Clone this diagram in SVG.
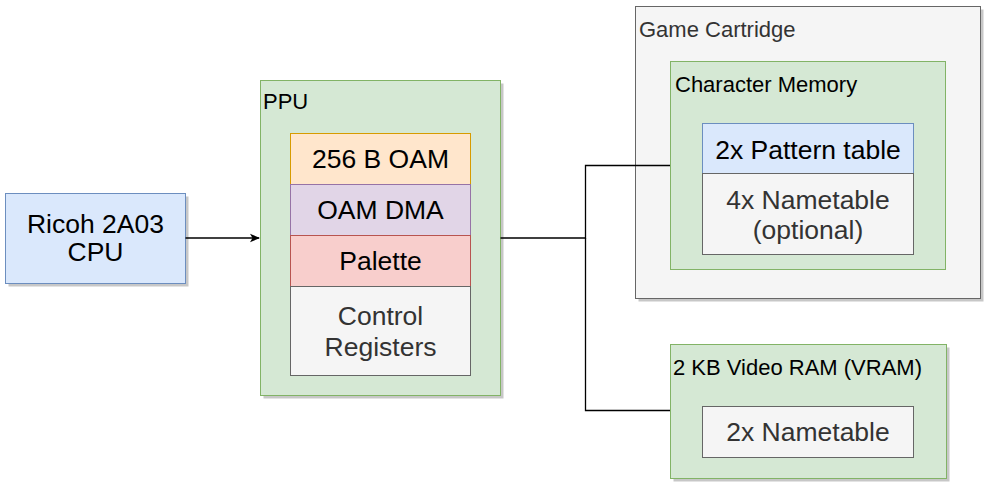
<svg xmlns="http://www.w3.org/2000/svg" width="990" height="489" viewBox="0 0 990 489">
<defs>
<style>
.sh{fill:#000;fill-opacity:0.22;stroke:none}
.blue{fill:#dae8fc;stroke:#6c8ebf;stroke-width:1}
.green{fill:#d5e8d4;stroke:#82b366;stroke-width:1}
.orange{fill:#ffe6cc;stroke:#d79b00;stroke-width:1}
.purple{fill:#e1d5e7;stroke:#9673a6;stroke-width:1}
.red{fill:#f8cecc;stroke:#b85450;stroke-width:1}
.grey{fill:#f5f5f5;stroke:#666666;stroke-width:1}
text{font-family:"Liberation Sans",Arial,Helvetica,sans-serif}
.big{font-size:26.5px;text-anchor:middle;fill:#000}
.bigg{font-size:26.5px;text-anchor:middle;fill:#333333}
.sm{font-size:22px;fill:#000}
.smg{font-size:22px;fill:#333333}
.conn{fill:none;stroke:#000;stroke-width:1.3}
</style>
<marker id="arr" viewBox="0 0 10 10" refX="9" refY="5" markerWidth="10" markerHeight="10" markerUnits="userSpaceOnUse" orient="auto">
<path d="M0,0.8 L10,5 L0,9.2 L2.5,5 Z" fill="#000"/>
</marker>
</defs>

<g id="cpu">
<rect class="sh" x="8.5" y="196.5" width="180" height="90"/>
<rect class="blue" x="5.5" y="193.5" width="180" height="90"/>
<text class="big" x="95.5" y="233">Ricoh 2A03</text>
<text class="big" x="95.5" y="261">CPU</text>
</g>

<g id="ppu">
<rect class="sh" x="263.5" y="83.5" width="240" height="315"/>
<rect class="green" x="260.5" y="80.5" width="240" height="315"/>
<text class="sm" x="263" y="109">PPU</text>
</g>

<g id="oam">
<rect class="orange" x="290.5" y="133.5" width="180" height="51"/>
<text class="big" x="380.5" y="168">256 B OAM</text>
</g>
<g id="oamdma">
<rect class="purple" x="290.5" y="184.5" width="180" height="51"/>
<text class="big" x="380.5" y="219">OAM DMA</text>
</g>
<g id="palette">
<rect class="red" x="290.5" y="235.5" width="180" height="51"/>
<text class="big" x="380.5" y="270">Palette</text>
</g>
<g id="control">
<rect class="grey" x="290.5" y="286.5" width="180" height="89"/>
<text class="bigg" x="380.5" y="325">Control</text>
<text class="bigg" x="380.5" y="356">Registers</text>
</g>

<g id="cartridge">
<rect class="sh" x="638.5" y="9.5" width="345" height="292"/>
<rect class="grey" x="635.5" y="6.5" width="345" height="292"/>
<text class="smg" x="639" y="37">Game Cartridge</text>
</g>

<g id="chr">
<rect class="green" x="670.5" y="61.5" width="275" height="208"/>
<text class="sm" x="675" y="92">Character Memory</text>
</g>

<g id="pattern">
<rect class="blue" x="702.5" y="123.5" width="211" height="50"/>
<text class="big" x="808" y="158.5">2x Pattern table</text>
</g>
<g id="nametable4">
<rect class="grey" x="702.5" y="173.5" width="211" height="81"/>
<text class="bigg" x="808" y="209">4x Nametable</text>
<text class="bigg" x="808" y="239">(optional)</text>
</g>

<g id="vram">
<rect class="sh" x="673.5" y="347.5" width="276" height="134"/>
<rect class="green" x="670.5" y="344.5" width="276" height="134"/>
<text class="sm" x="673" y="375">2 KB Video RAM (VRAM)</text>
</g>
<g id="nametable2">
<rect class="grey" x="702.5" y="406.5" width="211" height="51"/>
<text class="bigg" x="808" y="441">2x Nametable</text>
</g>

<g id="connectors">
<path class="conn" d="M185.5,238 H259" marker-end="url(#arr)"/>
<path class="conn" d="M500.5,238 H585.5 V165.5 H670"/>
<path class="conn" d="M585.5,238 V410.5 H670"/>
</g>
</svg>
